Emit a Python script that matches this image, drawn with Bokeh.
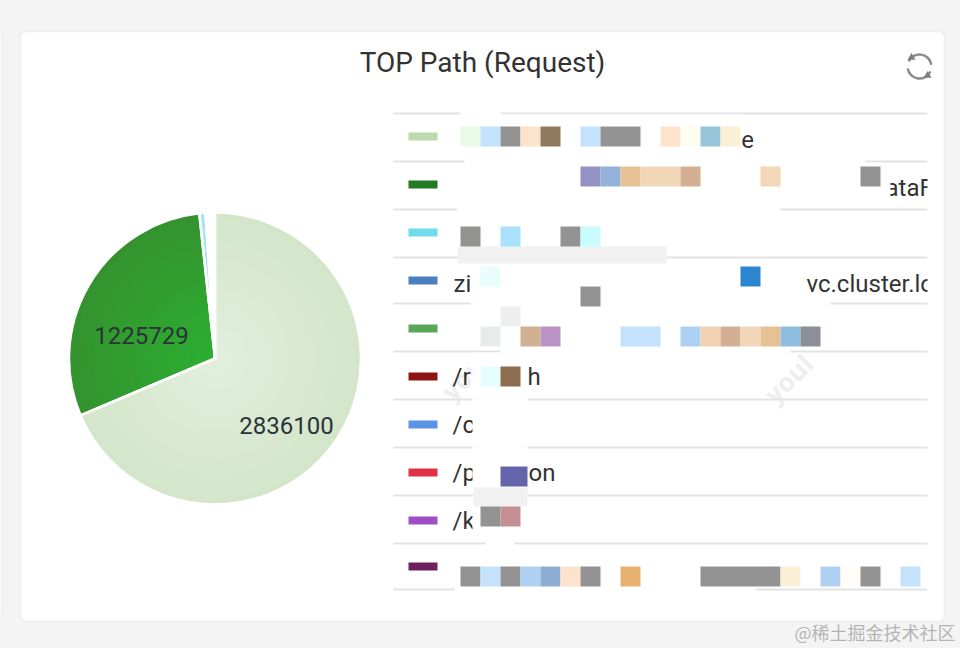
from math import pi
from bokeh.plotting import figure
from bokeh.embed import file_html
from bokeh.resources import INLINE
from bokeh.core.properties import value
from bokeh.models import BoxAnnotation, GlobalInlineStyleSheet, ColumnDataSource

# ---- data ----
TITLE = "TOP Path (Request)"
WATERMARK = "@稀土掘金技术社区"
slice_values = [2836100, 1225729, 28000, 12000, 9000, 7000, 5000, 4000, 3000, 3000]
slice_labels = ["2836100", "1225729", "", "", "", "", "", "", "", ""]
slice_outer = ["#d3e6ca", "#34932f", "#a4e3f0", "#4a7fc0", "#58a858", "#8e1414", "#5b93e6", "#e03048", "#a04ec8", "#6e1f5e"]
slice_inner = ["#e1eedb", "#2cad30", "#a4e3f0", "#4a7fc0", "#58a858", "#8e1414", "#5b93e6", "#e03048", "#a04ec8", "#6e1f5e"]
swatch_colors = ["#bbdbac", "#217a21", "#6fdcee", "#4a7fc0", "#58a858", "#8e1414", "#5b93e6", "#e03048", "#a04ec8", "#6e1f5e"]
# legend fragments that stay readable: (row, text x, text)
legend_text = [(0, 733, "te"), (1, 885, "ataF"), (3, 453, "zi"), (3, 806, "vc.cluster.lo"),
               (5, 452, "/r"), (5, 527, "h"), (6, 452, "/c"), (7, 452, "/p"),
               (7, 528, "on"), (8, 452, "/k")]

# ---- layout ----
W, H = 960, 648
CX, CY, R = 214.5, 358, 146
LABEL_POS = {"2836100": (286, 425), "1225729": (141, 335)}
ROW_SW_Y = [136, 184, 232, 280, 328, 376, 424, 472, 520, 566]
ROW_TEXT_DY = [3, 3, 3, 3, 3, 0, 0, 0, 0, 0]
SEP_Y = [113, 161, 209, 257, 303, 351, 399, 447, 495, 543, 589]
GRID_X, CELL = 460, 20

# redaction mosaic: (top y, first cell, cells wide, colour)
mosaic = [
    (126, 0, 1, "#e8fbe6"), (126, 1, 1, "#c4e2fb"), (126, 2, 1, "#939393"), (126, 3, 1, "#fde3cc"),
    (126, 4, 1, "#8f7a60"), (126, 6, 1, "#c4e2fb"), (126, 7, 2, "#939393"), (126, 10, 1, "#fde3cc"),
    (126, 11, 1, "#fffdf2"), (126, 12, 1, "#97c4d8"), (126, 13, 1, "#faf0d5"),
    (166, 6, 1, "#9293c4"), (166, 7, 1, "#93b1d9"), (166, 8, 1, "#e5c195"), (166, 9, 2, "#f2d6b8"),
    (166, 11, 1, "#d3b094"), (166, 15, 1, "#f2d8b8"), (166, 20, 1, "#939393"),
    (226, 0, 1, "#939390"), (226, 2, 1, "#a9e2fd"), (226, 5, 1, "#939393"), (226, 6, 1, "#c8fcfd"),
    (266, 1, 1, "#e9fdfd"), (266, 14, 1, "#2b86cf"), (286, 6, 1, "#939393"), (306, 2, 1, "#eeeeee"),
    (326, 1, 1, "#e6ecea"), (326, 3, 1, "#d1b094"), (326, 4, 1, "#bb93c4"), (326, 8, 2, "#c4e2fb"),
    (326, 11, 1, "#aed0f2"), (326, 12, 1, "#f0d2b2"), (326, 13, 1, "#d3b094"), (326, 14, 1, "#f2d6b8"),
    (326, 15, 1, "#e5c195"), (326, 16, 1, "#8fbde0"), (326, 17, 1, "#8d8f96"),
    (366, 1, 1, "#e6fdfd"), (366, 2, 1, "#8c6d50"), (466, 2, 1.35, "#6464aa"),
    (506, 1, 1, "#939393"), (506, 2, 1, "#c49094"),
    (566, 0, 1, "#939393"), (566, 1, 1, "#c4e2fb"), (566, 2, 1, "#939393"), (566, 3, 1, "#aed0f2"),
    (566, 4, 1, "#8fadd3"), (566, 5, 1, "#fde3cc"), (566, 6, 1, "#939393"), (566, 8, 1, "#e8b070"),
    (566, 12, 4, "#939393"), (566, 16, 1, "#faf0d5"), (566, 18, 1, "#aed0f2"), (566, 19, 1, "#fffdf5"),
    (566, 20, 1, "#939393"), (566, 22, 1, "#c4e2fb"),
]
# white blur blobs hiding the text and rules: x0, x1, y0, y1
masks = [(460, 500, 108, 118), (464, 741, 114, 158), (464, 865, 158, 206), (865, 890, 172, 200), (457, 780, 205, 247), (470, 804, 264, 300),
         (470, 830, 300, 347), (500, 790, 349, 353), (472, 527, 352, 480), (472, 527, 506, 530), (485, 514, 527, 546),
         (454, 755, 546, 592), (927, 936, 100, 600)]
shadows = [(457, 666, 246, 263), (473, 527, 487, 506)]

p = figure(width=W, height=H, x_range=(0, W), y_range=(H, 0),
           output_backend="svg", toolbar_location=None, min_border=0,
           background_fill_color="#f4f4f4", border_fill_color="#f4f4f4")
p.axis.visible = False
p.grid.visible = False
p.outline_line_color = None
p.stylesheets = [GlobalInlineStyleSheet(css="body{background:#f4f4f4}")]

# edge of the neighbouring card, and the card itself
p.add_layout(BoxAnnotation(left=-10, right=1.5, top=31, bottom=618, fill_color="#ffffff", fill_alpha=1,
                           line_color="#dcdcdc", line_width=2, border_radius=4, level="underlay"))
p.add_layout(BoxAnnotation(left=20, right=944, top=31, bottom=621, fill_color="#ffffff", fill_alpha=1,
                           line_color="#dcdcdc", line_width=2, border_radius=6, level="underlay"))

# title and refresh icon
p.text([482], [62], text=[TITLE], text_font=value("Roboto"), text_font_size="28px", text_color="#333333",
       text_align="center", text_baseline="middle")
p.arc([919], [66], radius=12, start_angle=[0.15], end_angle=[2.7], direction="anticlock", line_color="#8c8c8c", line_width=2.5)
p.arc([919], [66], radius=12, start_angle=[3.3], end_angle=[5.85], direction="anticlock", line_color="#8c8c8c", line_width=2.5)
p.scatter([911, 927], [57, 75], marker="triangle", size=8, fill_color="#7f7f7f", line_color=None)

# pie, shaded by painting shrinking copies of each wedge from the same values
total = sum(slice_values)
starts, ends, acc = [], [], 0.0
for v in slice_values:
    starts.append(pi / 2 - acc / total * 2 * pi)
    acc += v
    ends.append(pi / 2 - acc / total * 2 * pi)


def mix(a, b, t):
    ca = [int(a[i:i + 2], 16) for i in (1, 3, 5)]
    cb = [int(b[i:i + 2], 16) for i in (1, 3, 5)]
    return "#%02x%02x%02x" % tuple(round(x + (y - x) * t) for x, y in zip(ca, cb))


STEPS = 24
for k in range(STEPS):
    t = k / (STEPS - 1)
    src = ColumnDataSource(dict(s=starts, e=ends, c=[mix(o, i, t) for o, i in zip(slice_outer, slice_inner)]))
    p.wedge(x=CX, y=CY, radius=R * (1 - 0.92 * t), start_angle="s", end_angle="e", direction="clock",
            fill_color="c", line_color=None, source=src)
p.wedge(x=CX, y=CY, radius=R, start_angle=starts, end_angle=ends, direction="clock",
        fill_color=None, line_color="#ffffff", line_width=2.5)
for lab in slice_labels:
    if lab:
        lx, ly = LABEL_POS[lab]
        p.text([lx], [ly], text=[lab], text_font=value("Roboto"), text_font_size="24px",
               text_color="#2b3338", text_align="center", text_baseline="middle")

# faint background watermarks
p.text([445, 768], [395, 398], text=["you", "youl"], angle=[pi / 4, pi / 4], text_font=value("Open Sans"),
       text_font_style="bold", text_font_size="26px", text_color="#eeeeee", text_baseline="middle")

# legend
p.segment(x0=[393] * len(SEP_Y), x1=[927] * len(SEP_Y), y0=SEP_Y, y1=SEP_Y, line_color="#e3e3e3", line_width=2)
p.text([t[1] for t in legend_text], [ROW_SW_Y[t[0]] + ROW_TEXT_DY[t[0]] for t in legend_text], text=[t[2] for t in legend_text],
       text_font=value("Roboto"), text_font_size="24px", text_color="#333333", text_baseline="middle")
p.quad(left=[m[0] for m in masks], right=[m[1] for m in masks], top=[m[2] for m in masks], bottom=[m[3] for m in masks],
       fill_color="#ffffff", line_color=None)
p.quad(left=[m[0] for m in shadows], right=[m[1] for m in shadows], top=[m[2] for m in shadows], bottom=[m[3] for m in shadows],
       fill_color="#f1f1f1", line_color=None)
p.quad(left=[408] * 10, right=[437] * 10, top=[y - 4 for y in ROW_SW_Y], bottom=[y + 4 for y in ROW_SW_Y],
       fill_color=swatch_colors, line_color=None)
p.quad(left=[GRID_X + m[1] * CELL for m in mosaic], right=[GRID_X + (m[1] + m[2]) * CELL for m in mosaic],
       top=[m[0] for m in mosaic], bottom=[m[0] + CELL for m in mosaic],
       fill_color=[m[3] for m in mosaic], line_color=None)

p.text([955], [631], text=[WATERMARK], text_font=value("Noto Sans CJK SC"), text_font_size="18px",
       text_color="#b4b4b4", text_align="right", text_baseline="middle")

open("out.html", "w").write(file_html(p, INLINE))
